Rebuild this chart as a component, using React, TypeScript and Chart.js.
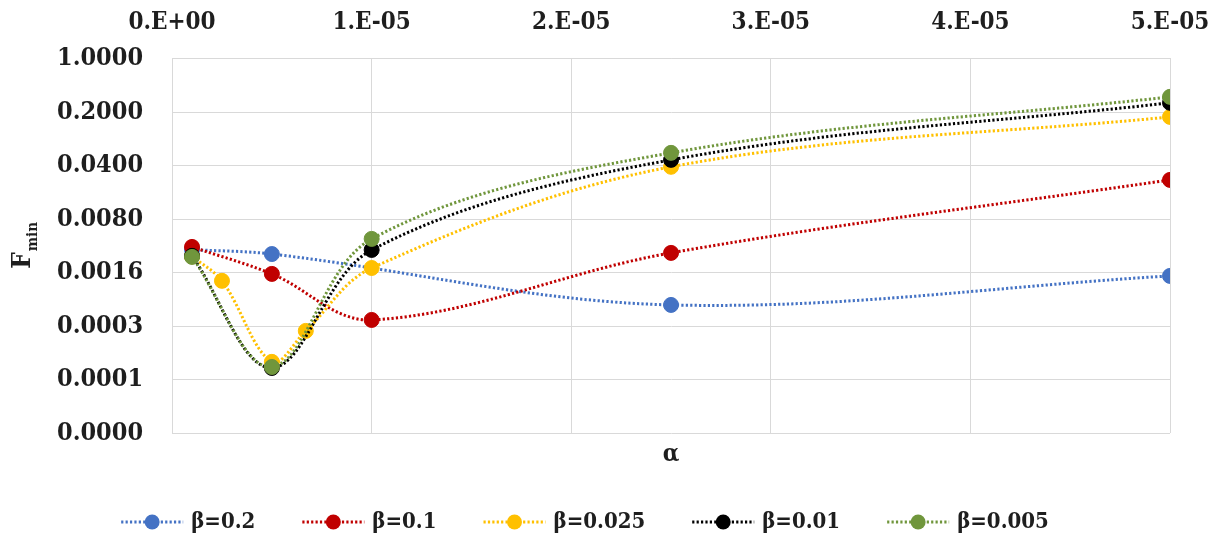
import { useEffect, useRef } from "react";
import { Chart, registerables } from "chart.js";

Chart.register(...registerables);

// α values (x) for each curve
const alphaBeta02 = [1e-6, 5e-6, 2.5e-5, 5e-5];
const alphaCoarse = [1e-6, 5e-6, 1e-5, 2.5e-5, 5e-5];
const alphaFine = [1e-6, 2.5e-6, 5e-6, 6.7e-6, 1e-5, 2.5e-5, 5e-5];

// F_min values (y) for each β
const fminBeta02 = [0.0032, 0.0028, 0.000605, 0.00145];
const fminBeta01 = [0.00347, 0.00154, 0.000385, 0.0029, 0.0261];
const fminBeta0025 = [0.0026, 0.00125, 0.000109, 0.000277, 0.00184, 0.0387, 0.174];
const fminBeta001 = [0.00265, 0.0000907, 0.00317, 0.0477, 0.266];
const fminBeta0005 = [0.00257, 0.0000934, 0.00442, 0.0589, 0.318];

const seriesLabels = ["β=0.2", "β=0.1", "β=0.025", "β=0.01", "β=0.005"];
const seriesColors = ["#4472C4", "#C00000", "#FFC000", "#000000", "#70963C"];

const xTickValues = [0, 1e-5, 2e-5, 3e-5, 4e-5, 5e-5];
const xTickLabels = ["0.E+00", "1.E-05", "2.E-05", "3.E-05", "4.E-05", "5.E-05"];
const yTickValues = [1, 0.2, 0.04, 0.008, 0.0016, 0.00032, 0.000064, 0.0000128];
const yTickLabels = ["1.0000", "0.2000", "0.0400", "0.0080", "0.0016", "0.0003", "0.0001", "0.0000"];

const xTitle = "α";
const yTitleMain = "F";
const yTitleSub = "min";

const FONT = "'DejaVu Serif Condensed', 'DejaVu Serif', serif";
const TEXT = "#1e1e1e";
const GRID = "#d9d9d9";
const DASH = [2.2, 2.2];

const zip = (xs: number[], ys: number[]) => xs.map((x, i) => ({ x, y: ys[i] }));

const seriesData = [
  zip(alphaBeta02, fminBeta02),
  zip(alphaCoarse, fminBeta01),
  zip(alphaFine, fminBeta0025),
  zip(alphaCoarse, fminBeta001),
  zip(alphaCoarse, fminBeta0005),
];

// Axis titles and the legend row, drawn on the chart canvas
const decorPlugin = {
  id: "fminDecor",
  afterDraw(chart: any) {
    const { ctx, chartArea } = chart;
    ctx.save();
    ctx.fillStyle = TEXT;

    // x title below the plot
    ctx.font = `bold 24px ${FONT}`;
    ctx.textAlign = "center";
    ctx.textBaseline = "middle";
    ctx.fillText(xTitle, (chartArea.left + chartArea.right) / 2, chartArea.bottom + 22);

    // rotated y title with subscript
    const cy = (chartArea.top + chartArea.bottom) / 2;
    ctx.save();
    ctx.translate(22, cy);
    ctx.rotate(-Math.PI / 2);
    ctx.textAlign = "left";
    ctx.textBaseline = "alphabetic";
    ctx.font = `bold 26px ${FONT}`;
    const wF = ctx.measureText(yTitleMain).width;
    ctx.font = `bold 15px ${FONT}`;
    const wS = ctx.measureText(yTitleSub).width;
    const x0 = -(wF + wS) / 2;
    ctx.font = `bold 26px ${FONT}`;
    ctx.fillText(yTitleMain, x0, 0);
    ctx.font = `bold 15px ${FONT}`;
    ctx.fillText(yTitleSub, x0 + wF + 1, 7);
    ctx.restore();

    // legend
    const symW = 62;
    const gap = 8;
    const itemGap = 47;
    const ly = 514;
    ctx.font = `bold 22px ${FONT}`;
    const widths = seriesLabels.map((t) => ctx.measureText(t).width);
    const total = widths.reduce((s, w) => s + symW + gap + w, 0) + itemGap * (seriesLabels.length - 1);
    let x = 577 - total / 2;
    seriesLabels.forEach((label, i) => {
      const c = seriesColors[i];
      ctx.save();
      ctx.strokeStyle = c;
      ctx.lineWidth = 3;
      ctx.setLineDash(DASH);
      ctx.beginPath();
      ctx.moveTo(x, ly);
      ctx.lineTo(x + symW, ly);
      ctx.stroke();
      ctx.setLineDash([]);
      ctx.fillStyle = c;
      ctx.beginPath();
      ctx.arc(x + symW / 2, ly, 7.5, 0, Math.PI * 2);
      ctx.fill();
      ctx.restore();
      ctx.fillStyle = TEXT;
      ctx.textAlign = "left";
      ctx.textBaseline = "middle";
      ctx.fillText(label, x + symW + gap, ly);
      x += symW + gap + widths[i] + itemGap;
    });
    ctx.restore();
  },
};

export default function App() {
  const canvasRef = useRef<HTMLCanvasElement | null>(null);

  useEffect(() => {
    if (!canvasRef.current) return;
    const xTickFont = { family: FONT, size: 24, weight: "bold" as const };
    const yTickFont = { family: FONT, size: 25, weight: "bold" as const };
    const chart = new Chart(canvasRef.current, {
      type: "line",
      data: {
        datasets: seriesLabels.map((label, i) => ({
          label,
          data: seriesData[i],
          borderColor: seriesColors[i],
          backgroundColor: seriesColors[i],
          borderWidth: 3,
          borderDash: DASH,
          pointRadius: 7.5,
          pointBorderWidth: 1,
          pointBorderColor: seriesColors[i],
          pointBackgroundColor: seriesColors[i],
          tension: 0.35,
          fill: false,
          order: seriesLabels.length - i,
        })),
      },
      options: {
        animation: false,
        responsive: true,
        maintainAspectRatio: false,
        layout: { padding: { left: 49, right: 52, top: 0, bottom: 103 } },
        plugins: {
          legend: { display: false },
          tooltip: { enabled: false },
        },
        scales: {
          x: {
            type: "linear",
            position: "top",
            min: 0,
            max: 5e-5,
            afterBuildTicks: (s: any) => {
              s.ticks = xTickValues.map((v) => ({ value: v }));
            },
            ticks: {
              callback: (_v: any, i: number) => xTickLabels[i],
              font: xTickFont,
              color: TEXT,
              padding: 0,
              maxRotation: 0,
              autoSkip: false,
            },
            grid: { color: GRID, lineWidth: 1, drawTicks: true, tickLength: 22, tickColor: "rgba(0,0,0,0)" },
            border: { color: GRID },
          },
          y: {
            type: "logarithmic",
            min: 0.0000128,
            max: 1,
            afterBuildTicks: (s: any) => {
              s.ticks = yTickValues.map((v) => ({ value: v }));
            },
            ticks: {
              callback: (_v: any, i: number) => yTickLabels[i],
              font: yTickFont,
              color: TEXT,
              padding: 0,
              autoSkip: false,
            },
            grid: { color: GRID, lineWidth: 1, drawTicks: true, tickLength: 29, tickColor: "rgba(0,0,0,0)" },
            border: { color: GRID },
          },
        },
      },
      plugins: [decorPlugin],
    });
    return () => chart.destroy();
  }, []);

  return (
    <div style={{ position: "relative", width: 1214, height: 528 }}>
      <canvas ref={canvasRef} />
    </div>
  );
}
